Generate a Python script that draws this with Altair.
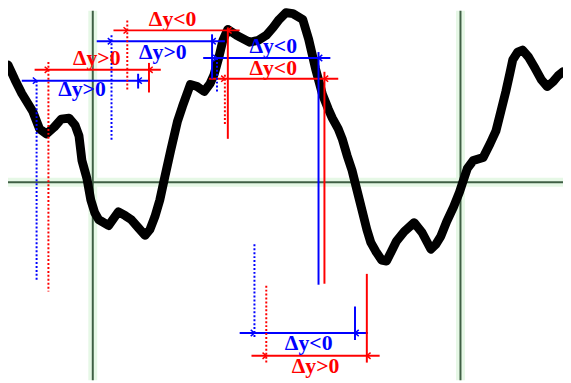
import altair as alt
import pandas as pd

# ---- curve (signal) ----
curve_x = [8, 15, 22, 33, 40, 47, 55, 62, 70, 76, 80, 83, 88, 92, 96, 100, 110, 120, 127, 133,
           140, 147, 152, 157, 162, 167, 173, 180, 185, 193, 200, 207, 213, 217, 222, 226, 231,
           240, 253, 262, 270, 277, 283, 290, 297, 307, 313, 320, 327, 333, 337, 343, 347, 352,
           357, 362, 367, 372, 376, 381, 387, 392, 397, 402, 410, 420, 428, 437, 442, 447, 453,
           460, 466, 470, 474, 480, 490, 497, 503, 508, 513, 517, 520, 525, 530, 536, 543, 549,
           555, 561, 566, 571]
curve_y = [119, 104, 90, 72, 54, 49, 56, 64, 65, 58, 47, 22, 4, -18, -31, -38, -44, -30, -34, -38,
           -46, -54, -48, -35, -18, 5, 32, 62, 77, 99, 97, 92, 100, 109, 127, 144, 155,
           149, 142, 144, 149, 157, 165, 172, 171, 165, 145, 115, 89, 74, 65, 54, 44, 27,
           12, -8, -28, -48, -61, -70, -79, -80, -70, -60, -50, -41, -51, -68, -63, -55, -40,
           -25, -10, 2, 14, 22, 25, 39, 52, 72, 92, 110, 124, 132, 134, 127, 115, 104,
           97, 102, 108, 112]

# ---- reference grid ----
grid_x = [94, 467]
grid_y = [0]

# ---- Δy annotations (blue/red pairs) ----
ann_color = ["#0000ff", "#ff0000", "#0000ff", "#ff0000", "#0000ff", "#ff0000", "#0000ff", "#ff0000"]
h_y = [103, 114, 143, 154, 126, 105, -153, -176]
h_x1 = [22, 35, 98, 115, 206, 212, 243, 255]
h_x2 = [152, 163, 228, 243, 335, 343, 373, 385]
start_x = [37, 49, 113, 129, 220, 228, 258, 270]
dot_y1 = [103, 122, 149, 164, 126, 109, -63, -105]
dot_y2 = [-101, -111, 42, 92, 92, 57, -158, -183]
end_x = [140, 151, 215, 231, 323, 329, 360, 372]
sol_y1 = [110, 121, 150, 157, 132, 112, -126, -93]
sol_y2 = [95, 91, 105, 44, -104, -103, -160, -183]
labels = ["Δy>0", "Δy>0", "Δy>0", "Δy<0", "Δy<0", "Δy<0", "Δy<0", "Δy>0"]
label_x = [83, 98, 165, 175, 277, 277, 313, 320]
label_y = [94, 126, 132, 165, 138, 116, -163, -187]

curve = pd.DataFrame({"x": curve_x, "y": curve_y})
ann = pd.DataFrame({
    "c": ann_color, "hy": h_y, "hx1": h_x1, "hx2": h_x2, "sx": start_x,
    "dy1": dot_y1, "dy2": dot_y2, "ex": end_x, "sy1": sol_y1, "sy2": sol_y2,
    "lab": labels, "lx": label_x, "ly": label_y,
})
gx = pd.DataFrame({"x": grid_x})
gy = pd.DataFrame({"y": grid_y})

xs = alt.Scale(domain=[8, 571], nice=False, zero=False)
ys = alt.Scale(domain=[-201, 174], nice=False, zero=False)
col = alt.Color("c:N", scale=None)

def X(f):
    return alt.X(f, scale=xs, axis=None)

def Y(f):
    return alt.Y(f, scale=ys, axis=None)

halo_v = alt.Chart(gx).mark_rule(color="#e6f8e6", strokeWidth=9).encode(x=X("x:Q"))
halo_h = alt.Chart(gy).mark_rule(color="#e6f8e6", strokeWidth=9).encode(y=Y("y:Q"))
core_v = alt.Chart(gx).mark_rule(color="#3f5f44", strokeWidth=2).encode(x=X("x:Q"))
core_h = alt.Chart(gy).mark_rule(color="#3f5f44", strokeWidth=2).encode(y=Y("y:Q"))

line = alt.Chart(curve).mark_line(color="black", strokeWidth=9, strokeJoin="round",
                                  strokeCap="round").encode(x=X("x:Q"), y=Y("y:Q"))

base = alt.Chart(ann)
hlines = base.mark_rule(strokeWidth=2).encode(x=X("hx1:Q"), x2="hx2:Q", y=Y("hy:Q"), color=col)
dots = base.mark_rule(strokeWidth=2, strokeDash=[2, 2]).encode(x=X("sx:Q"), y=Y("dy1:Q"), y2="dy2:Q", color=col)
sols = base.mark_rule(strokeWidth=2).encode(x=X("ex:Q"), y=Y("sy1:Q"), y2="sy2:Q", color=col)
arr_s = base.mark_point(shape="M-1.2,-1L0,0L-1.2,1", size=40, filled=False, strokeWidth=1.5,
                        opacity=1).encode(x=X("sx:Q"), y=Y("hy:Q"), color=col)
arr_e = base.mark_point(shape="M1.2,-1L0,0L1.2,1", size=40, filled=False, strokeWidth=1.5,
                        opacity=1).encode(x=X("ex:Q"), y=Y("hy:Q"), color=col)
texts = base.mark_text(font="Liberation Serif", fontWeight="bold", fontSize=22,
                       baseline="middle", align="center").encode(
    x=X("lx:Q"), y=Y("ly:Q"), text="lab:N", color=col)

chart = alt.layer(halo_v, halo_h, core_v, core_h, line, hlines, dots, sols, arr_s, arr_e, texts).properties(
    width=563, height=375, autosize=alt.AutoSizeParams(type="none"), padding=0,
    background="white",
).configure_view(stroke=None)

chart.save("out.html", embed_options={"renderer": "svg", "actions": False})
